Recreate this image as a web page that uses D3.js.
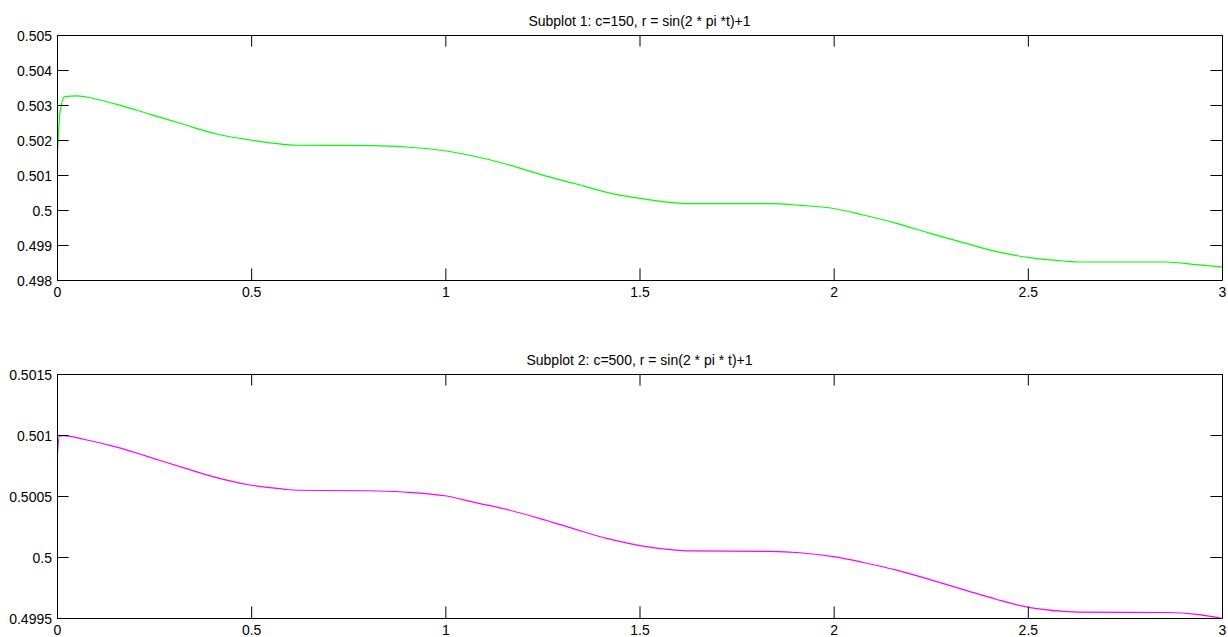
<!DOCTYPE html>
<html>
<head>
<meta charset="utf-8">
<script src="https://cdn.jsdelivr.net/npm/d3@7"></script>
<style>
  html, body { margin: 0; padding: 0; background: #fff; }
  svg { display: block; }
  text { font-family: Arial, "Liberation Sans", sans-serif; fill: #000; }
</style>
</head>
<body>
<svg id="chart" width="1228" height="637"></svg>
<script>
// ---- data ----
const titles = ["Subplot 1: c=150, r = sin(2 * pi *t)+1", "Subplot 2: c=500, r = sin(2 * pi * t)+1"];

const t1 = [0, 0.008, 0.02, 0.05, 0.11, 0.154, 0.24, 0.325, 0.411, 0.497, 0.583, 0.617, 0.815, 0.90, 1.003,
            1.072, 1.158, 1.244, 1.33, 1.416, 1.501, 1.587, 1.63, 1.836, 1.913, 2.008,
            2.076, 2.162, 2.248, 2.334, 2.42, 2.506, 2.591, 2.634, 2.857, 2.935, 3.0];
const y1 = [0.50133, 0.50281, 0.50324, 0.50326, 0.503143, 0.50302, 0.502734, 0.502449, 0.502171, 0.502, 0.501877, 0.50185, 0.50184, 0.5018, 0.501686,
            0.501543, 0.501306, 0.50102, 0.500763, 0.500506, 0.500334, 0.500209, 0.50018, 0.50018, 0.500134, 0.500029,
            0.499857, 0.49962, 0.499334, 0.499066, 0.498809, 0.498637, 0.498543, 0.498514, 0.498514, 0.498437, 0.49837];

const t2 = [0, 0.006, 0.016, 0.068, 0.154, 0.24, 0.325, 0.411, 0.497, 0.583, 0.617, 0.8, 0.892, 1.003,
            1.072, 1.158, 1.244, 1.33, 1.416, 1.501, 1.587, 1.63, 1.836, 1.913, 2.0,
            2.076, 2.162, 2.248, 2.334, 2.42, 2.506, 2.591, 2.634, 2.857, 2.935, 3.0];
const y2 = [0.50078, 0.50099, 0.500995, 0.500965, 0.5009, 0.500817, 0.500732, 0.50065, 0.50059, 0.500557, 0.500547, 0.500543, 0.500533, 0.5005,
            0.50045, 0.50039, 0.500315, 0.500232, 0.500152, 0.500093, 0.500058, 0.50005, 0.500046, 0.500035, 0.500003,
            0.499955, 0.499892, 0.499815, 0.499733, 0.499652, 0.499585, 0.499555, 0.499548, 0.499545, 0.49953, 0.499497];

const xTicks = [0, 0.5, 1, 1.5, 2, 2.5, 3];
const yTicks1 = [0.498, 0.499, 0.5, 0.501, 0.502, 0.503, 0.504, 0.505];
const yTicks2 = [0.4995, 0.5, 0.5005, 0.501, 0.5015];
const colors = ["#00ff00", "#ff00ff"];

// ---- layout ----
const svg = d3.select("#chart");
const left = 57, right = 1222;
const panels = [
  { top: 35, bottom: 280, t: t1, y: y1, yTicks: yTicks1, yDomain: [0.498, 0.505], title: titles[0], color: colors[0] },
  { top: 374, bottom: 618, t: t2, y: y2, yTicks: yTicks2, yDomain: [0.4995, 0.5015], title: titles[1], color: colors[1] }
];
const tickLen = 11.6;

panels.forEach((p, i) => {
  const x = d3.scaleLinear().domain([0, 3]).range([left, right]);
  const y = d3.scaleLinear().domain(p.yDomain).range([p.bottom, p.top]);
  const g = svg.append("g");

  // clip
  const clipId = "clip" + i;
  svg.append("clipPath").attr("id", clipId)
    .append("rect").attr("x", left).attr("y", p.top).attr("width", right - left).attr("height", p.bottom - p.top);

  // data line
  const pts = p.t.map((tv, k) => [tv, p.y[k]]);
  const line = d3.line().x(d => x(d[0])).y(d => y(d[1])).curve(d3.curveMonotoneX);
  g.append("path").datum(pts)
    .attr("clip-path", `url(#${clipId})`)
    .attr("fill", "none").attr("stroke", p.color).attr("stroke-width", 1.2)
    .attr("d", line);

  // axes with inward ticks (bottom, top, left, right)
  const fmt = d => String(+d.toFixed(6));
  const axB = d3.axisBottom(x).tickValues(xTicks).tickSizeInner(-tickLen).tickSizeOuter(0).tickFormat(fmt).tickPadding(4);
  const axT = d3.axisTop(x).tickValues(xTicks).tickSizeInner(-tickLen).tickSizeOuter(0).tickFormat("");
  const axL = d3.axisLeft(y).tickValues(p.yTicks).tickSizeInner(-tickLen).tickSizeOuter(0).tickFormat(fmt).tickPadding(5);
  const axR = d3.axisRight(y).tickValues(p.yTicks).tickSizeInner(-tickLen).tickSizeOuter(0).tickFormat("");

  const gb = g.append("g").attr("transform", `translate(0,${p.bottom})`).call(axB);
  const gt = g.append("g").attr("transform", `translate(0,${p.top})`).call(axT);
  const gl = g.append("g").attr("transform", `translate(${left},0)`).call(axL);
  const gr = g.append("g").attr("transform", `translate(${right},0)`).call(axR);

  [gb, gt, gl, gr].forEach(a => {
    a.selectAll(".domain").attr("stroke", "#000").attr("stroke-width", 1);
    a.selectAll(".tick line").attr("stroke", "#000").attr("stroke-width", 1);
    a.selectAll("text").style("font-family", "Arial, 'Liberation Sans', sans-serif").style("font-size", "14px").attr("fill", "#000");
  });
  gb.selectAll(".tick text").attr("y", 0).attr("dy", null).attr("dominant-baseline", null)
    .attr("transform", "translate(0,16.5)");
  gl.selectAll(".tick text").attr("x", -5).attr("dy", "0.36em");

  // title
  svg.append("text")
    .attr("x", (left + right) / 2).attr("y", p.top - 9)
    .attr("text-anchor", "middle")
    .style("font-size", "14px")
    .text(p.title);
});
</script>
</body>
</html>
